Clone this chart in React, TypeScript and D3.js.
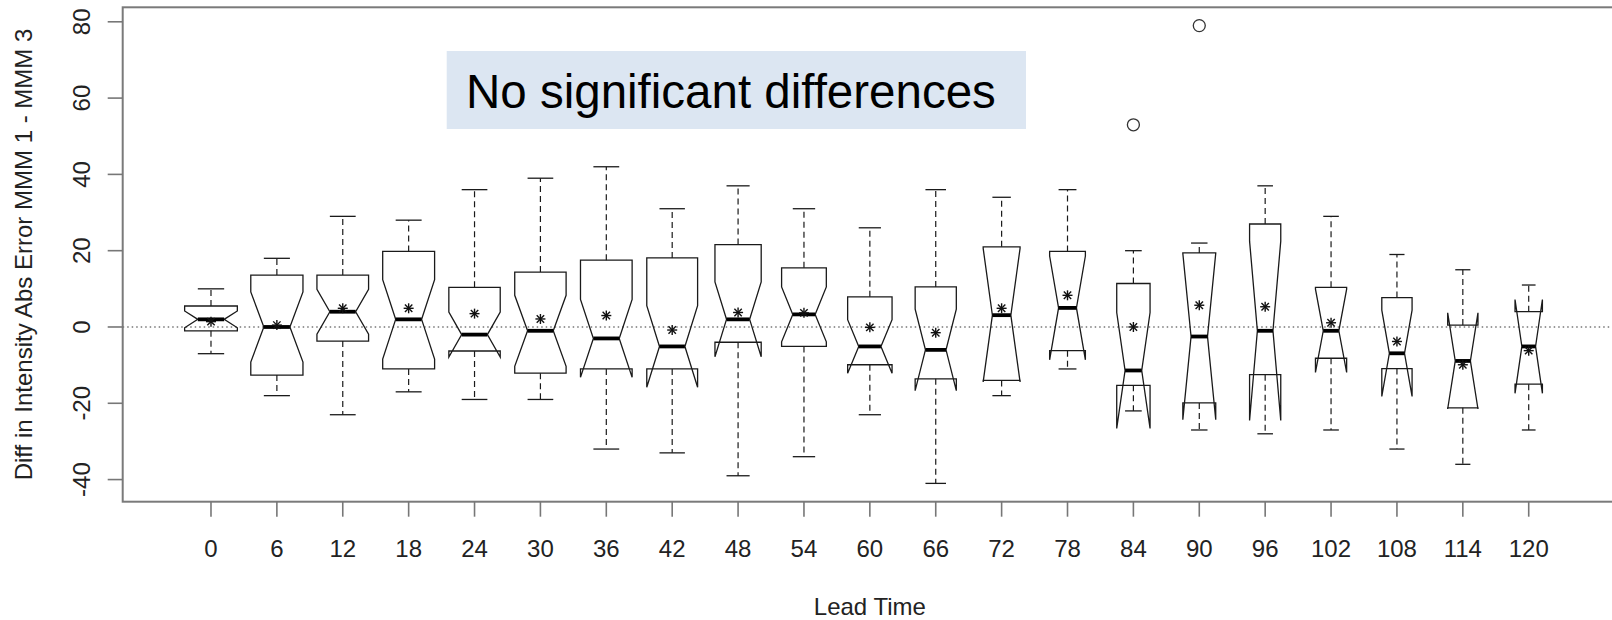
import React, { useEffect, useRef } from "react";
import * as d3 from "d3";

// lead times (hours) along the x axis
const leadTimes = ["0", "6", "12", "18", "24", "30", "36", "42", "48", "54", "60", "66", "72", "78", "84", "90", "96", "102", "108", "114", "120"];

// five number summaries
const whiskerLow = [-7, -18, -23, -17, -19, -19, -32, -33, -39, -34, -23, -41, -18, -11, -22, -27, -28, -27, -32, -36, -27];
const lowerHinge = [-1, -12.6, -3.7, -11, -6.3, -12.1, -11, -11, -4, -5.1, -9.9, -13.6, -14, -6.2, -15.3, -19.9, -12.5, -8.2, -10.9, -21.2, -15];
const medians = [2, 0, 4, 2, -2, -1, -3, -5.1, 2, 3.3, -5.1, -6, 3.1, 5, -11.4, -2.5, -1, -1, -6.9, -8.9, -5.1];
const upperHinge = [5.5, 13.6, 13.6, 19.8, 10.4, 14.4, 17.5, 18.1, 21.6, 15.5, 7.9, 10.5, 21, 19.8, 11.4, 19.4, 27, 10.4, 7.7, 0.5, 4];
const whiskerHigh = [10, 18, 29, 28, 36, 39, 42, 31, 37, 31, 26, 36, 34, 36, 20, 22, 37, 29, 19, 15, 11];
const means = [1.4, 0.5, 4.9, 4.9, 3.5, 2.1, 3, -0.8, 3.8, 3.7, -0.1, -1.5, 4.9, 8.3, 0, 5.7, 5.3, 1.1, -3.8, -9.9, -6.2];
// half height of the notch (1.58 * IQR / sqrt(n))
const notchHalf = [2.2, 9.2, 5.9, 10.4, 5.9, 9.3, 10.2, 10.7, 9.8, 7.2, 7, 10.7, 17.5, 13.6, 15.2, 21.8, 23.5, 10.9, 11.3, 12.6, 12.3];
// number of cases per lead time (box width ~ sqrt(n))
const sampleSizes = [100, 98, 96, 97, 95, 95, 96, 93, 77, 72, 71, 61, 49, 46, 40, 39, 35, 35, 33, 33, 27];

const outlierLeads = ["84", "90"];
const outlierValues = [53, 79];

const yTicks = [-40, -20, 0, 20, 40, 60, 80];

const yTitle = "Diff in Intensity Abs Error MMM 1 - MMM 3";
const xTitle = "Lead Time";
const note = "No significant differences";

export default function App() {
  const ref = useRef<SVGSVGElement>(null);

  const width = 1612,
    height = 620;
  const plot = { left: 122.7, top: 7.3, bottom: 501.7, right: 1617 };
  const font = "'Liberation Sans', Arial, sans-serif";

  useEffect(() => {
    const svg = d3.select(ref.current);
    svg.selectAll("*").remove();

    const n = leadTimes.length;
    // R style range: 0.5..n+0.5 extended 4%
    const x = d3
      .scaleLinear()
      .domain([0.5 - n * 0.04, n + 0.5 + n * 0.04])
      .range([plot.left, plot.right]);

    const allVals = [...whiskerLow, ...whiskerHigh, ...outlierValues];
    const lo = d3.min(allVals) as number,
      hi = d3.max(allVals) as number;
    const pad = (hi - lo) * 0.04;
    const y = d3.scaleLinear().domain([lo - pad, hi + pad]).range([plot.bottom, plot.top]);

    const unit = x(2) - x(1);
    const nMax = d3.max(sampleSizes) as number;

    // annotation box
    svg
      .append("rect")
      .attr("x", 446.7)
      .attr("y", 51)
      .attr("width", 579.3)
      .attr("height", 78)
      .attr("fill", "#dce6f2");
    svg
      .append("text")
      .attr("x", 466)
      .attr("y", 108)
      .attr("font-family", font)
      .attr("font-size", 47.5)
      .attr("fill", "#000")
      .text(note);

    // zero reference line
    svg
      .append("line")
      .attr("x1", plot.left)
      .attr("x2", plot.right)
      .attr("y1", y(0))
      .attr("y2", y(0))
      .attr("stroke", "#333")
      .attr("stroke-width", 1.2)
      .attr("stroke-dasharray", "1.5 3");

    const boxes = leadTimes.map((lead, i) => ({
      pos: i + 1,
      wLo: whiskerLow[i],
      q1: lowerHinge[i],
      med: medians[i],
      q3: upperHinge[i],
      wHi: whiskerHigh[i],
      mean: means[i],
      conf: [medians[i] - notchHalf[i], medians[i] + notchHalf[i]],
      half: 0.4 * unit * Math.sqrt(sampleSizes[i] / nMax),
    }));

    const g = svg.append("g");
    const ink = "#1a1a1a";

    boxes.forEach((b) => {
      const cx = x(b.pos);
      const w = b.half;
      const nf = 0.5;

      // whiskers
      [
        [b.q3, b.wHi],
        [b.q1, b.wLo],
      ].forEach(([a, e]) => {
        g.append("line")
          .attr("x1", cx)
          .attr("x2", cx)
          .attr("y1", y(a))
          .attr("y2", y(e))
          .attr("stroke", ink)
          .attr("stroke-width", 1.2)
          .attr("stroke-dasharray", "6 4");
        g.append("line")
          .attr("x1", cx - w * 0.5)
          .attr("x2", cx + w * 0.5)
          .attr("y1", y(e))
          .attr("y2", y(e))
          .attr("stroke", ink)
          .attr("stroke-width", 1.3);
      });

      // notched box outline
      const pts: [number, number][] = [
        [cx - w, y(b.q1)],
        [cx + w, y(b.q1)],
        [cx + w, y(b.conf[0])],
        [cx + nf * w, y(b.med)],
        [cx + w, y(b.conf[1])],
        [cx + w, y(b.q3)],
        [cx - w, y(b.q3)],
        [cx - w, y(b.conf[1])],
        [cx - nf * w, y(b.med)],
        [cx - w, y(b.conf[0])],
      ];
      g.append("path")
        .attr("d", d3.line()(pts) + "Z")
        .attr("fill", "none")
        .attr("stroke", ink)
        .attr("stroke-width", 1.3)
        .attr("stroke-linejoin", "miter");

      // median
      g.append("line")
        .attr("x1", cx - nf * w)
        .attr("x2", cx + nf * w)
        .attr("y1", y(b.med))
        .attr("y2", y(b.med))
        .attr("stroke", "#000")
        .attr("stroke-width", 3.8);

      // mean as pch 8 star
      const my = y(b.mean);
      const r = 5,
        d = 3.7;
      [
        [-r, 0, r, 0],
        [0, -r, 0, r],
        [-d, -d, d, d],
        [-d, d, d, -d],
      ].forEach(([x1, y1, x2, y2]) => {
        g.append("line")
          .attr("x1", cx + x1)
          .attr("y1", my + y1)
          .attr("x2", cx + x2)
          .attr("y2", my + y2)
          .attr("stroke", "#111")
          .attr("stroke-width", 1.4);
      });
    });

    // outliers
    outlierLeads.forEach((lead, i) => {
      g.append("circle")
        .attr("cx", x(leadTimes.indexOf(lead) + 1))
        .attr("cy", y(outlierValues[i]))
        .attr("r", 6)
        .attr("fill", "none")
        .attr("stroke", "#333")
        .attr("stroke-width", 1.3);
    });

    // plot frame
    svg
      .append("rect")
      .attr("x", plot.left)
      .attr("y", plot.top)
      .attr("width", plot.right - plot.left)
      .attr("height", plot.bottom - plot.top)
      .attr("fill", "none")
      .attr("stroke", "#7a7a7a")
      .attr("stroke-width", 2);

    // x axis
    const xa = svg.append("g").attr("font-family", font).attr("font-size", 24).attr("fill", "#222");
    leadTimes.forEach((lab, i) => {
      xa.append("line")
        .attr("x1", x(i + 1))
        .attr("x2", x(i + 1))
        .attr("y1", plot.bottom)
        .attr("y2", plot.bottom + 15)
        .attr("stroke", "#777")
        .attr("stroke-width", 1.6);
      xa.append("text")
        .attr("x", x(i + 1))
        .attr("y", 557)
        .attr("text-anchor", "middle")
        .text(lab);
    });

    // y axis
    const ya = svg.append("g").attr("font-family", font).attr("font-size", 24).attr("fill", "#222");
    yTicks.forEach((t) => {
      ya.append("line")
        .attr("x1", plot.left - 15)
        .attr("x2", plot.left)
        .attr("y1", y(t))
        .attr("y2", y(t))
        .attr("stroke", "#777")
        .attr("stroke-width", 1.6);
      ya.append("text")
        .attr("transform", `translate(90,${y(t)}) rotate(-90)`)
        .attr("text-anchor", "middle")
        .text(t);
    });

    // axis titles
    svg
      .append("text")
      .attr("x", (plot.left + plot.right) / 2)
      .attr("y", 615)
      .attr("text-anchor", "middle")
      .attr("font-family", font)
      .attr("font-size", 24)
      .attr("fill", "#222")
      .text(xTitle);
    svg
      .append("text")
      .attr("transform", `translate(32,${(plot.top + plot.bottom) / 2}) rotate(-90)`)
      .attr("text-anchor", "middle")
      .attr("font-family", font)
      .attr("font-size", 24)
      .attr("fill", "#222")
      .text(yTitle);
  }, []);

  return (
    <div style={{ position: "absolute", left: 0, top: 0 }}>
      <svg ref={ref} width={width} height={height} style={{ display: "block", background: "#fff" }} />
    </div>
  );
}
